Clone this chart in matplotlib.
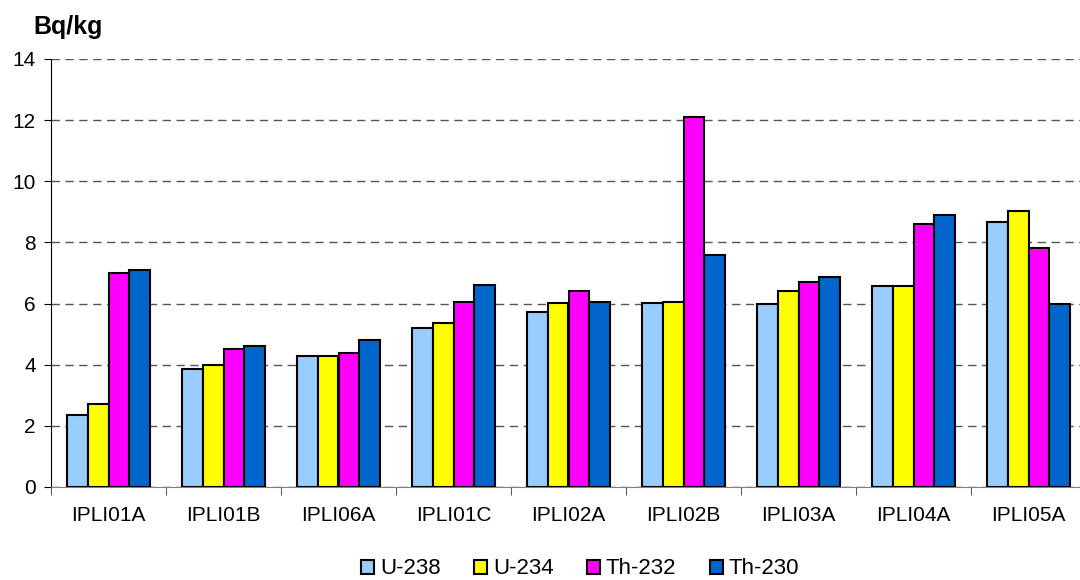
# Radionuclide activity per sample - grouped bars

import numpy as np
import matplotlib.pyplot as plt

plt.rcParams['font.family'] = ['Liberation Sans', 'DejaVu Sans']

# Sample data (Bq/kg)
samples = ["IPLI01A", "IPLI01B", "IPLI06A", "IPLI01C", "IPLI02A",
           "IPLI02B", "IPLI03A", "IPLI04A", "IPLI05A"]
u238 = [2.36, 3.87, 4.27, 5.20, 5.72, 6.01, 6.00, 6.58, 8.67]
u234 = [2.70, 3.98, 4.27, 5.38, 6.01, 6.06, 6.40, 6.58, 9.02]
th232 = [6.99, 4.50, 4.38, 6.06, 6.40, 12.09, 6.70, 8.61, 7.81]
th230 = [7.11, 4.62, 4.80, 6.61, 6.06, 7.58, 6.88, 8.90, 6.00]

series = [("U-238", u238, "#99CCFF"),
          ("U-234", u234, "#FFFF00"),
          ("Th-232", th232, "#FF00FF"),
          ("Th-230", th230, "#0066CC")]

fig = plt.figure(figsize=(10.8, 5.8), dpi=100)
ax = fig.add_axes([51 / 1080, 1 - 487 / 580, 1035 / 1080, 428 / 580])

x = np.arange(len(samples))
w = 0.18
for i, (name, vals, col) in enumerate(series):
    ax.bar(x + (i - 1.5) * w, vals, w, color=col, edgecolor="black",
           linewidth=1.5, label=name, zorder=3)

ax.set_xlim(-0.5, len(samples) - 0.5)
ax.set_ylim(0, 14)
ax.set_yticks(range(0, 15, 2))
ax.yaxis.grid(True, linestyle=(0, (6, 4)), color="#555555", linewidth=1, zorder=0)
ax.set_axisbelow(True)

# category labels centred, tick marks between groups
ax.set_xticks(x)
ax.set_xticklabels(samples, fontsize=15)
ax.tick_params(axis="x", length=0, pad=14)
ax.set_xticks(np.arange(-0.5, len(samples), 1), minor=True)
ax.tick_params(axis="x", which="minor", length=6, color="#333333")
ax.tick_params(axis="y", labelsize=15, length=5, pad=6)

for s in ["top", "right"]:
    ax.spines[s].set_visible(False)
ax.spines["left"].set_color("black")
ax.spines["bottom"].set_color("#808080")

fig.text(33 / 1080, 1 - 27 / 580, "Bq/kg", fontsize=18, fontweight="bold",
         va="center", ha="left")

leg = fig.legend(loc="center", bbox_to_anchor=(580 / 1080, 1 - 569 / 580),
                 ncol=4, frameon=False, fontsize=16, handlelength=0.6,
                 handleheight=0.6, handletextpad=0.25, columnspacing=1.5,
                 borderpad=0)

plt.savefig("out.png", dpi=100)
